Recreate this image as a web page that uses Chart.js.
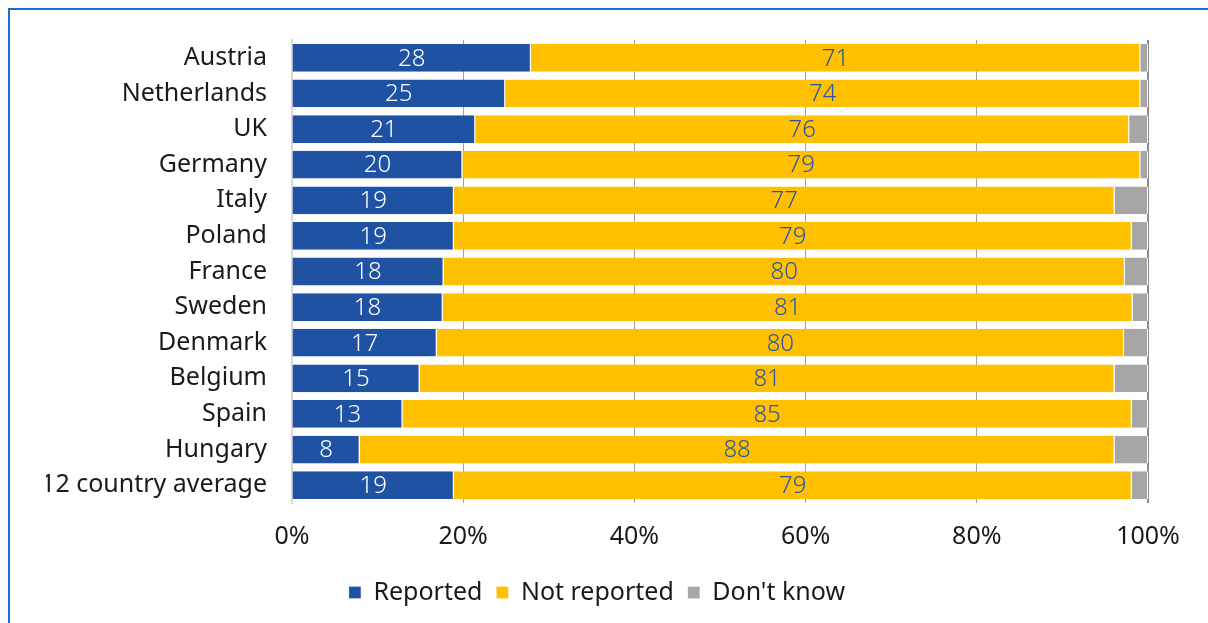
<!DOCTYPE html>
<html lang="en">
<head>
<meta charset="UTF-8">
<title>Reported vs not reported</title>
<style>
html, body { margin: 0; padding: 0; background: #fff; overflow: hidden; }
.frame { position: absolute; left: 8px; top: 8px; width: 1400px; height: 800px; border: 2px solid #1a72c6; }
.wrap { position: absolute; left: 0; top: 0; width: 1208px; height: 623px; }
</style>
</head>
<body>
<div class="frame"></div>
<div class="wrap"><canvas id="chart"></canvas></div>
<script src="https://cdn.jsdelivr.net/npm/chart.js"></script>
<script>
// countries, top to bottom
var countries = ['Austria', 'Netherlands', 'UK', 'Germany', 'Italy', 'Poland', 'France',
  'Sweden', 'Denmark', 'Belgium', 'Spain', 'Hungary', '12 country average'];
var reported    = [27.9, 24.9, 21.4, 19.9, 18.9, 18.9, 17.7, 17.6, 16.9, 14.9, 12.9, 7.9, 18.9];
var notReported = [71.2, 74.2, 76.4, 79.2, 77.2, 79.2, 79.6, 80.6, 80.3, 81.2, 85.2, 88.2, 79.2];
var dontKnow    = [0.9, 0.9, 2.2, 0.9, 3.9, 1.9, 2.7, 1.8, 2.8, 3.9, 1.9, 3.9, 1.9];
var xTicks = [0, 20, 40, 60, 80, 100];

var FONT = "'Noto Sans', sans-serif";

// numbers inside the bars
var barLabels = {
  id: 'barLabels',
  afterDatasetsDraw: function(chart) {
    var ctx = chart.ctx;
    var colors = ['#ffffff', '#2a56a4'];
    ctx.save();
    ctx.font = '300 24px ' + FONT;
    ctx.textAlign = 'center';
    ctx.textBaseline = 'middle';
    for (var d = 0; d < 2; d++) {
      var meta = chart.getDatasetMeta(d);
      ctx.fillStyle = colors[d];
      meta.data.forEach(function(bar, i) {
        var p = bar.getCenterPoint();
        ctx.fillText(Math.round(chart.data.datasets[d].data[i]), p.x, p.y + 1);
      });
    }
    ctx.restore();
  }
};

var ctx = document.getElementById('chart').getContext('2d');
new Chart(ctx, {
  type: 'bar',
  data: {
    labels: countries,
    datasets: [
      { label: 'Reported', data: reported, backgroundColor: '#1f52a3' },
      { label: 'Not reported', data: notReported, backgroundColor: '#ffc000' },
      { label: "Don't know", data: dontKnow, backgroundColor: '#a6a6a6' }
    ]
  },
  options: {
    indexAxis: 'y',
    responsive: true,
    maintainAspectRatio: false,
    animation: false,
    datasets: { bar: { categoryPercentage: 1, barPercentage: 0.78, borderWidth: { right: 1 }, borderColor: '#ffffff', borderSkipped: false } },
    layout: { padding: { left: 46, right: 60, top: 38, bottom: 8 } },
    scales: {
      x: {
        stacked: true,
        min: 0,
        max: 100,
        afterBuildTicks: function(s) { s.ticks = xTicks.map(function(v) { return { value: v }; }); },
        afterFit: function(s) { s.height -= 5; },
        ticks: {
          callback: function(v) { return v + '%'; },
          color: '#1a1a1a',
          font: { family: FONT, size: 25 },
          padding: 19
        },
        grid: {
          drawTicks: false,
          color: function(c) { return c.tick && c.tick.value === 100 ? '#8c8c8c' : '#a0a0a0'; },
          lineWidth: function(c) { return c.tick && c.tick.value === 100 ? 2 : 1; }
        },
        border: { display: false }
      },
      y: {
        stacked: true,
        afterFit: function(s) { s.width = 246; },
        ticks: {
          color: '#1a1a1a',
          font: { family: FONT, size: 25 },
          padding: 25
        },
        grid: { display: false, drawTicks: false },
        border: { display: true, color: '#d9d9d9', width: 2 }
      }
    },
    plugins: {
      legend: {
        position: 'bottom',
        labels: {
          boxWidth: 12,
          boxHeight: 12,
          padding: 14,
          color: '#1a1a1a',
          font: { family: FONT, size: 25 }
        }
      },
      tooltip: { enabled: false }
    }
  },
  plugins: [barLabels]
});
</script>
</body>
</html>
